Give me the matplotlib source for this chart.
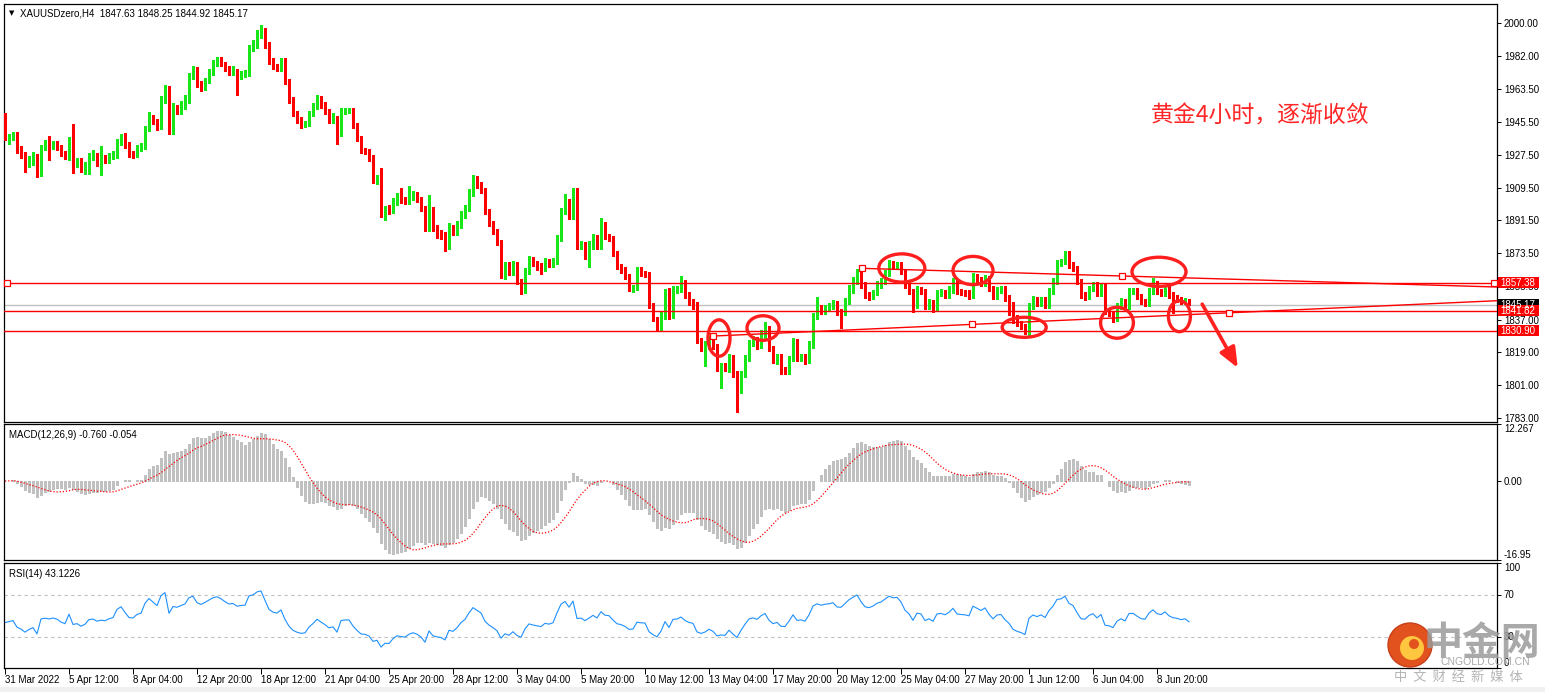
import numpy as np
import pandas as pd
import matplotlib
matplotlib.use('Agg')
import matplotlib.pyplot as plt
from matplotlib.patches import Ellipse, Rectangle, Circle
from matplotlib.transforms import blended_transform_factory

plt.rcParams['font.family'] = ['Liberation Sans', 'DejaVu Sans']

W, H = 1545, 692
GREEN = '#19E619'
RED = '#FF0000'

# XAUUSD H4 candles, 31 Mar 2022 -> 9 Jun 2022 (open of a bar = close of the one before)
first_open = 1944.9
close = [
    1936.6, 1937.5, 1938.5, 1930.2, 1927.5, 1922.9, 1925.1, 1926.6, 1917.4, 1932.1,
    1933.0, 1932.0, 1933.0, 1931.7, 1928.4, 1926.6, 1935.7, 1922.9, 1923.8, 1920.1,
    1922.0, 1926.6, 1927.1, 1924.7, 1925.6, 1925.0, 1926.6, 1927.5, 1934.8, 1937.5,
    1933.0, 1928.4, 1928.0, 1931.0, 1932.1, 1942.1, 1948.5, 1945.8, 1943.0, 1957.7,
    1963.6, 1941.2, 1953.0, 1952.0, 1955.0, 1958.0, 1970.9, 1974.2, 1966.8, 1964.6,
    1968.5, 1973.0, 1977.8, 1979.7, 1977.8, 1975.0, 1972.7, 1973.5, 1971.0, 1972.0,
    1972.3, 1986.0, 1987.9, 1993.4, 1995.5, 1987.9, 1979.0, 1976.0, 1975.0, 1978.8,
    1967.8, 1957.7, 1950.4, 1946.7, 1944.4, 1944.9, 1950.4, 1954.0, 1958.6, 1954.9,
    1951.3, 1946.7, 1947.6, 1939.4, 1951.3, 1952.0, 1952.0, 1943.7, 1936.6, 1930.0,
    1929.3, 1926.0, 1914.0, 1915.0, 1894.5, 1898.2, 1897.3, 1901.8, 1904.6, 1902.8,
    1901.8, 1904.2, 1905.5, 1903.1, 1898.2, 1887.2, 1897.3, 1887.2, 1885.0, 1883.5,
    1878.0, 1887.2, 1885.4, 1889.0, 1894.5, 1898.2, 1906.4, 1914.3, 1911.0, 1907.9,
    1896.3, 1889.9, 1885.4, 1879.3, 1861.5, 1866.7, 1862.8, 1867.0, 1857.9, 1853.3,
    1863.4, 1870.2, 1868.0, 1866.5, 1865.0, 1868.9, 1867.6, 1869.2, 1881.7, 1896.3,
    1901.8, 1894.5, 1907.3, 1877.1, 1878.0, 1872.5, 1877.1, 1882.1, 1877.1, 1889.0,
    1882.6, 1881.7, 1873.5, 1866.1, 1864.3, 1860.6, 1854.2, 1854.6, 1863.7, 1862.4,
    1862.1, 1845.1, 1837.7, 1832.2, 1839.0, 1852.4, 1839.6, 1853.3, 1853.7, 1857.3,
    1850.6, 1846.9, 1845.0, 1825.5, 1821.3, 1823.1, 1826.7, 1822.2, 1810.3, 1811.5,
    1810.3, 1816.3, 1807.5, 1798.4, 1807.2, 1815.7, 1824.0, 1825.8, 1823.1, 1828.6,
    1832.2, 1821.3, 1814.9, 1816.7, 1809.4, 1809.0, 1815.8, 1825.0, 1815.8, 1816.5,
    1814.5, 1823.1, 1838.7, 1843.3, 1841.4, 1843.3, 1844.2, 1846.0, 1841.4, 1841.0,
    1846.9, 1853.3, 1857.9, 1862.5, 1856.1, 1850.6, 1849.7, 1851.9, 1856.1, 1857.9,
    1862.5, 1867.6, 1866.2, 1867.0, 1863.4, 1856.1, 1852.4, 1845.1, 1853.3, 1852.4,
    1844.5, 1846.4, 1843.3, 1851.5, 1852.0, 1850.6, 1853.3, 1857.9, 1852.4, 1851.8,
    1851.5, 1850.6, 1860.7, 1858.8, 1857.0, 1859.7, 1854.2, 1849.7, 1853.3, 1853.8,
    1848.8, 1845.1, 1837.8, 1835.0, 1833.2, 1830.4, 1844.2, 1847.8, 1846.0, 1847.8,
    1845.1, 1852.4, 1857.9, 1868.0, 1868.9, 1873.5, 1867.1, 1865.2, 1857.9, 1850.6,
    1850.0, 1854.2, 1856.1, 1851.5, 1855.2, 1841.4, 1840.5, 1837.8, 1844.2, 1846.9,
    1844.2, 1852.4, 1852.8, 1849.7, 1846.9, 1846.2, 1852.4, 1856.1, 1852.4, 1851.5,
    1854.2, 1850.6, 1848.8, 1848.2, 1847.0, 1847.63, 1845.17,
]
# wick lengths above / below the body (USD)
wick_up = [
    5.5, 1.5, 1.5, 1.5, 2.0, 1.5, 2.0, 2.5, 1.5, 1.0,
    2.5, 5.0, 2.0, 2.0, 1.5, 1.5, 1.5, 9.0, 2.0, 2.0,
    1.5, 2.0, 3.0, 1.5, 7.0, 2.0, 2.0, 2.0, 1.5, 1.5,
    2.0, 1.5, 1.5, 2.0, 2.0, 1.5, 2.5, 1.0, 1.5, 2.0,
    2.5, 2.0, 3.0, 2.0, 2.0, 2.5, 1.5, 2.0, 1.5, 1.5,
    1.5, 1.5, 2.0, 1.5, 1.5, 1.0, 1.5, 3.0, 1.5, 1.5,
    2.0, 2.0, 2.5, 2.5, 3.4, 1.5, 1.5, 2.0, 1.5, 2.0,
    2.0, 1.5, 1.5, 1.5, 1.5, 1.5, 1.5, 2.0, 2.0, 1.5,
    1.5, 1.5, 3.0, 1.5, 2.0, 1.5, 1.5, 1.5, 1.5, 1.5,
    1.5, 1.5, 1.5, 1.5, 5.5, 1.5, 2.0, 2.0, 2.0, 5.0,
    1.5, 6.0, 2.0, 1.5, 1.5, 1.5, 8.0, 1.5, 2.0, 1.5,
    1.5, 3.0, 2.0, 2.0, 2.0, 2.0, 2.5, 2.0, 1.5, 1.5,
    1.5, 1.5, 1.5, 1.5, 1.5, 2.0, 2.0, 2.0, 1.5, 1.5,
    2.0, 2.0, 1.5, 1.5, 1.5, 2.0, 1.5, 1.5, 2.0, 2.0,
    4.0, 1.5, 2.0, 2.0, 2.0, 1.5, 3.0, 2.0, 1.5, 4.0,
    1.5, 1.5, 1.5, 1.5, 1.5, 1.5, 1.5, 1.5, 2.0, 2.0,
    1.5, 1.0, 1.0, 1.0, 2.0, 1.5, 2.0, 2.0, 2.0, 3.5,
    1.5, 1.5, 1.5, 1.5, 1.5, 2.0, 1.5, 1.5, 1.5, 1.5,
    1.5, 2.0, 1.5, 1.5, 1.5, 2.0, 2.0, 2.0, 1.5, 2.5,
    3.7, 1.5, 1.5, 1.5, 1.5, 1.5, 1.5, 2.0, 1.5, 1.5,
    1.5, 2.0, 2.0, 6.4, 1.5, 1.5, 2.0, 2.0, 1.5, 1.5,
    2.0, 2.5, 2.5, 2.5, 1.5, 1.5, 1.5, 1.5, 2.0, 2.0,
    2.0, 2.2, 1.5, 1.5, 1.5, 1.5, 1.5, 1.5, 2.0, 1.5,
    1.5, 2.0, 1.5, 2.0, 2.0, 1.5, 2.0, 2.0, 1.5, 1.5,
    1.5, 2.0, 2.0, 1.5, 1.5, 2.0, 1.5, 1.5, 1.5, 1.5,
    1.5, 1.5, 1.5, 1.5, 1.5, 1.5, 2.0, 2.0, 1.5, 1.5,
    1.5, 2.0, 2.0, 2.0, 1.5, 1.5, 1.5, 1.5, 1.5, 1.5,
    1.5, 1.5, 1.5, 1.5, 2.0, 1.5, 1.5, 1.5, 2.0, 2.0,
    1.5, 2.0, 1.5, 1.5, 1.5, 1.5, 2.0, 3.6, 2.0, 1.5,
    2.0, 1.5, 1.5, 1.5, 1.5, 1.5, 0.62,
]
wick_dn = [
    1.0, 3.0, 2.0, 1.5, 1.5, 4.5, 2.0, 3.0, 1.8, 1.5,
    2.0, 7.3, 1.5, 1.5, 1.5, 1.5, 2.0, 5.5, 2.0, 2.0,
    3.0, 5.0, 2.0, 3.0, 8.0, 2.0, 2.0, 1.5, 1.5, 2.0,
    1.5, 2.0, 2.0, 1.5, 1.5, 1.5, 1.5, 1.5, 2.0, 1.5,
    1.5, 2.0, 2.0, 2.0, 2.0, 2.0, 2.0, 1.5, 2.0, 2.0,
    1.5, 1.5, 1.5, 1.5, 1.5, 1.5, 1.5, 1.5, 10.6, 1.5,
    1.5, 1.5, 1.5, 1.5, 1.5, 1.5, 1.5, 1.5, 1.5, 1.5,
    1.5, 1.5, 1.5, 1.5, 2.0, 1.5, 1.5, 1.5, 1.5, 1.5,
    1.5, 1.5, 1.5, 6.0, 1.5, 1.5, 1.5, 1.5, 1.5, 1.5,
    1.5, 2.0, 2.0, 2.5, 1.0, 3.0, 2.0, 1.5, 2.0, 1.5,
    1.5, 1.5, 1.5, 1.5, 1.5, 1.5, 1.5, 1.5, 3.0, 2.0,
    3.5, 2.0, 2.0, 2.0, 1.5, 1.5, 1.5, 1.5, 1.5, 1.5,
    1.5, 1.5, 1.5, 1.5, 1.5, 2.0, 1.5, 1.5, 1.5, 2.0,
    1.5, 1.5, 1.5, 2.0, 3.0, 1.5, 1.5, 1.5, 1.5, 1.5,
    1.5, 2.0, 2.0, 1.5, 1.5, 2.0, 6.5, 1.5, 1.5, 1.5,
    1.5, 1.5, 1.5, 1.5, 1.5, 1.5, 1.5, 2.0, 1.5, 1.5,
    1.5, 1.5, 1.5, 1.5, 1.5, 1.5, 2.0, 1.5, 1.5, 1.5,
    1.5, 2.0, 2.0, 1.5, 1.5, 10.0, 2.0, 1.5, 1.5, 11.0,
    1.5, 2.0, 2.0, 12.0, 1.5, 1.5, 1.5, 1.5, 2.0, 1.5,
    1.5, 1.5, 1.5, 2.0, 2.0, 2.0, 2.0, 1.5, 1.5, 1.5,
    2.0, 1.5, 1.5, 1.5, 1.5, 1.5, 1.5, 1.5, 2.0, 8.7,
    1.5, 1.5, 1.5, 1.5, 1.5, 1.5, 2.0, 1.5, 1.5, 1.5,
    1.5, 1.5, 1.5, 1.5, 1.5, 1.5, 1.5, 3.7, 1.5, 1.5,
    1.5, 1.5, 2.0, 1.5, 1.5, 1.5, 1.5, 1.5, 1.5, 1.5,
    1.5, 2.0, 1.5, 1.5, 1.5, 1.5, 1.5, 1.5, 1.5, 1.5,
    1.5, 5.5, 2.5, 1.5, 1.5, 1.5, 1.8, 1.5, 1.5, 1.5,
    1.5, 1.5, 1.5, 1.5, 1.5, 1.5, 1.5, 1.5, 1.5, 1.5,
    2.0, 1.5, 1.5, 1.5, 1.5, 1.5, 1.5, 2.0, 1.5, 1.5,
    1.5, 1.5, 1.5, 1.5, 1.5, 1.5, 1.5, 1.5, 1.5, 1.5,
    1.5, 1.5, 8.0, 1.5, 1.5, 1.5, 0.25,
]

time_labels = ['31 Mar 2022', '5 Apr 12:00', '8 Apr 04:00', '12 Apr 20:00', '18 Apr 12:00',
               '21 Apr 04:00', '25 Apr 20:00', '28 Apr 12:00', '3 May 04:00', '5 May 20:00',
               '10 May 12:00', '13 May 04:00', '17 May 20:00', '20 May 12:00', '25 May 04:00',
               '27 May 20:00', '1 Jun 12:00', '6 Jun 04:00', '8 Jun 20:00']
price_ticks = [2000.0, 1982.0, 1963.5, 1945.5, 1927.5, 1909.5, 1891.5, 1873.5,
               1855.5, 1837.0, 1819.0, 1801.0, 1783.0]
level_lines = [1857.38, 1841.82, 1830.90]
bid = 1845.17

# drawn trend lines: (bar, price) anchors
upper_trend = [(214.2, 1865.2), (279.2, 1861.0)]
lower_trend = [(177.1, 1828.0), (241.7, 1834.4), (306.0, 1840.8)]
# hand drawn circles: centre bar, centre price, width (bars), height (USD)
circles = [(178.5, 1826.9, 5.5, 20), (189.5, 1832.4, 8, 13.5), (224.2, 1865.4, 11.5, 15.5),
           (242.0, 1864.0, 10, 15.5), (254.8, 1832.8, 11, 11), (278.0, 1835.3, 8.2, 17),
           (288.5, 1863.3, 13.5, 16), (293.6, 1838.9, 5.5, 17)]

# ---- indicators -----------------------------------------------------------
c = np.array(close)
o = np.r_[first_open, c[:-1]]
hi = np.maximum(o, c) + np.array(wick_up)
lo = np.minimum(o, c) - np.array(wick_dn)
n = len(c)
x = np.arange(n)

s = pd.Series(c)
macd = s.ewm(span=12, adjust=False).mean() - s.ewm(span=26, adjust=False).mean()
signal = macd.rolling(9, min_periods=1).mean()

# RSI(14), Wilder smoothing; no history before the window, so start from a neutral state
d = np.diff(c, prepend=first_open)
g = np.clip(d, 0, None)
l = np.clip(-d, 0, None)
ag = al = np.abs(d[:14]).mean() / 2
rsi = np.empty(n)
for i in range(n):
    ag = (ag * 13 + g[i]) / 14
    al = (al * 13 + l[i]) / 14
    rsi[i] = 100 - 100 / (1 + ag / al)

# ---- figure ---------------------------------------------------------------
fig = plt.figure(figsize=(W / 100, H / 100), dpi=100, facecolor='white')


def rect(x0, y0, x1, y1):
    return [x0 / W, 1 - y1 / H, (x1 - x0) / W, (y1 - y0) / H]


ax = fig.add_axes(rect(4, 4, 1497, 422))
axm = fig.add_axes(rect(4, 424, 1497, 560))
axr = fig.add_axes(rect(4, 563, 1497, 668))

XMAX = 373.0
for a in (ax, axm, axr):
    a.set_xlim(-0.25, XMAX)
    for sp in a.spines.values():
        sp.set_linewidth(0.9)
        sp.set_color('black')
    a.yaxis.set_ticks_position('right')
    a.tick_params(axis='y', direction='out', length=3, width=0.7, labelsize=7, pad=2)
    a.set_facecolor('white')

# main price panel
ax.set_ylim(1780.77, 2010.44)
ax.set_xticks([])
ax.set_yticks(price_ticks)
ax.set_yticklabels([f'{p:.2f}' for p in price_ticks])

colors = np.where(c >= o, GREEN, RED)
ax.vlines(x, lo, hi, colors=colors, lw=0.75, antialiased=False, zorder=3)
ax.bar(x, np.maximum(np.abs(c - o), 0.55), bottom=np.minimum(o, c), width=0.72,
       color=colors, linewidth=0, antialiased=False, zorder=4)

ax.axhline(bid, color='#C0C0C0', lw=1.0, zorder=2)
for lv in level_lines:
    ax.axhline(lv, color=RED, lw=1.0, zorder=5)


def trend(a, pts):
    (x0, y0), (x1, y1) = pts[0], pts[1]
    k = (y1 - y0) / (x1 - x0)
    a.plot([x0, XMAX], [y0, y0 + k * (XMAX - x0)], color=RED, lw=1.0, zorder=5)
    a.plot([p[0] for p in pts], [p[1] for p in pts], ls='none', marker='s', ms=4,
           mfc='white', mec=RED, mew=0.9, zorder=6)


trend(ax, upper_trend)
trend(ax, lower_trend)
ax.plot([0.5, 372.3], [level_lines[0]] * 2, ls='none', marker='s', ms=4,
        mfc='white', mec=RED, mew=0.9, zorder=6, clip_on=False)

for cx, cy, w, h in circles:
    ax.add_patch(Ellipse((cx, cy), w, h, fill=False, ec='#FF1E1E', lw=2.4, zorder=7))

ax.annotate('', xy=(308.2, 1810.5), xytext=(299.3, 1845.5),
            arrowprops=dict(arrowstyle='-|>,head_length=1.2,head_width=0.5', color='#FF2020',
                            lw=2.6, shrinkA=0, shrinkB=0), zorder=7)
ax.text(286.4, 1949.0, '黄金4小时，逐渐收敛', color='#FF2626', fontsize=16.5,
        family=['Noto Sans CJK SC', 'DejaVu Sans'], va='center', ha='left', zorder=8)

# price boxes on the scale
tb = blended_transform_factory(ax.transAxes, ax.transData)
for val, fc in [(level_lines[0], RED), (bid, 'black'), (level_lines[1], RED), (level_lines[2], RED)]:
    ax.add_patch(Rectangle((1.0007, val - 3.0), 0.0275, 6.0, transform=tb, fc=fc, ec='none',
                           clip_on=False, zorder=10))
    ax.text(1.0022, val, f'{val:.2f}', transform=tb, color='white', fontsize=7, va='center',
            ha='left', clip_on=False, zorder=11)

# header
fig.text(20 / W, 1 - 13 / H, 'XAUUSDzero,H4  1847.63 1848.25 1844.92 1845.17', fontsize=7,
         va='center', ha='left')
fig.text(9 / W, 1 - 13 / H, '▼', fontsize=5, va='center', ha='left', family='DejaVu Sans')

# MACD panel
axm.set_ylim(-16.95, 12.267)
axm.set_xticks([])
axm.vlines(x, 0, macd.values, colors='#C0C0C0', lw=0.75, antialiased=False)
axm.plot(x, signal.values, color=RED, lw=0.9, ls=(0, (1, 1.5)))
axm.set_yticks([12.267, 0.0, -16.95])
axm.set_yticklabels(['12.267', '0.00', '-16.95'])
lbls = axm.get_yticklabels()
lbls[0].set_va('top')
lbls[2].set_va('bottom')
axm.text(0.0035, 0.955, 'MACD(12,26,9) -0.760 -0.054', transform=axm.transAxes, fontsize=7,
         va='top', ha='left')

# RSI panel
axr.set_ylim(0, 100)
for lv in (70, 30):
    axr.axhline(lv, color='#C0C0C0', lw=0.8, ls=(0, (3, 3)))
axr.plot(x, rsi, color='#1E90FF', lw=0.8)
axr.set_yticks([100, 70, 30, 0])
axr.set_yticklabels(['100', '70', '30', '0'])
lbls = axr.get_yticklabels()
lbls[0].set_va('top')
lbls[3].set_va('bottom')
axr.text(0.0035, 0.94, 'RSI(14) 43.1226', transform=axr.transAxes, fontsize=7,
         va='top', ha='left')
axr.set_xticks(np.arange(0, 16 * len(time_labels), 16))
axr.set_xticklabels(time_labels)
axr.tick_params(axis='x', direction='out', length=4, width=0.7, labelsize=7, pad=1)
for t in axr.get_xticklabels():
    t.set_ha('left')

# watermark (logo + site name)
fig.patches.append(Circle((14.10, (H - 645) / 100), 0.22, transform=fig.dpi_scale_trans,
                          fc='#E2521E', ec='#C8401A', lw=1, zorder=20))
fig.patches.append(Circle((14.12, (H - 648) / 100), 0.12, transform=fig.dpi_scale_trans,
                          fc='#FFC640', ec='none', zorder=21))
fig.patches.append(Circle((14.14, (H - 644) / 100), 0.05, transform=fig.dpi_scale_trans,
                          fc='#E2521E', ec='none', zorder=22))
fig.text(1482 / W, 1 - 643 / H, '中金网', fontsize=28, color='#9A9A9A', weight='bold',
         ha='center', va='center', family=['Noto Sans CJK SC'], alpha=0.85, zorder=21)
fig.text(1485 / W, 1 - 662 / H, 'CNGOLD.COM.CN', fontsize=7.5, color='#A8A8A8',
         ha='center', va='center', zorder=21)
fig.text(1458 / W, 1 - 677 / H, '中  文  财  经  新  媒  体', fontsize=9.5, color='#B4B4B4',
         ha='center', va='center', family=['Noto Sans CJK SC', 'DejaVu Sans'], zorder=21)

fig.patches.append(Rectangle((0, 0), 1, 5 / H, transform=fig.transFigure, fc='#F0F0F0',
                             ec='none', zorder=0))

fig.savefig('out.png', dpi=100, facecolor=fig.get_facecolor())
